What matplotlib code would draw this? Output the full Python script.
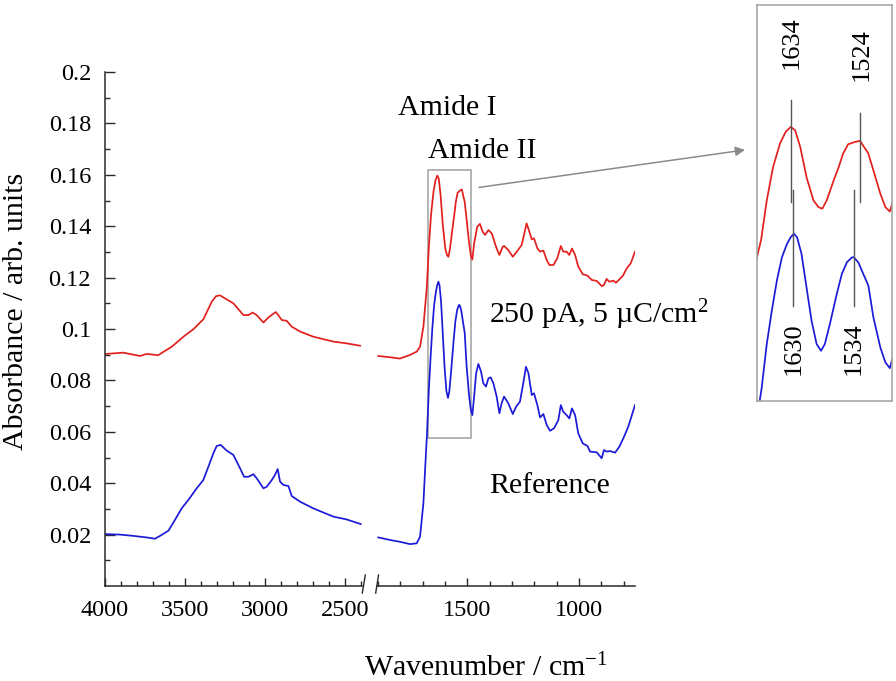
import numpy as np
import matplotlib
matplotlib.use("Agg")
import matplotlib.pyplot as plt
from matplotlib.patches import Rectangle
from matplotlib.ticker import FixedLocator, FuncFormatter

plt.rcParams['font.family'] = ['Liberation Serif', 'DejaVu Serif']
plt.rcParams['mathtext.fontset'] = 'custom'
plt.rcParams['mathtext.rm'] = 'Liberation Serif'
plt.rcParams['mathtext.it'] = 'Liberation Serif'

# ---------------- data ----------------
# high-wavenumber window (4000-2400 cm-1)
red_wn_hi = [3994, 3886, 3781, 3740, 3667, 3635, 3583, 3510, 3448, 3385, 3333, 3306, 3281,
             3250, 3198, 3135, 3104, 3077, 3052, 3010, 2979, 2933, 2917, 2896, 2865, 2833,
             2781, 2698, 2573, 2490, 2406]
red_hi = [0.0903, 0.0908, 0.0895, 0.0903, 0.0898, 0.0911, 0.0931, 0.0970, 0.0999, 0.1038,
          0.1106, 0.1128, 0.1131, 0.1119, 0.1100, 0.1054, 0.1054, 0.1064, 0.1054, 0.1025,
          0.1045, 0.1066, 0.1054, 0.1035, 0.1032, 0.1009, 0.0990, 0.0970, 0.0951, 0.0944,
          0.0935]
blue_wn_hi = [3994, 3906, 3823, 3740, 3688, 3656, 3604, 3563, 3521, 3479, 3427, 3386, 3354,
              3323, 3302, 3277, 3240, 3198, 3156, 3131, 3104, 3073, 3052, 3010, 2990, 2958,
              2938, 2921, 2906, 2885, 2854, 2833, 2781, 2698, 2573, 2490, 2402]
blue_hi = [0.0202, 0.0200, 0.0195, 0.0189, 0.0184, 0.0195, 0.0215, 0.0257, 0.0302, 0.0335,
           0.0380, 0.0412, 0.0464, 0.0516, 0.0545, 0.0549, 0.0527, 0.0510, 0.0458, 0.0425,
           0.0425, 0.0435, 0.0419, 0.0380, 0.0386, 0.0412, 0.0432, 0.0455, 0.0406, 0.0393,
           0.0389, 0.0350, 0.0328, 0.0302, 0.0270, 0.0259, 0.0241]

# low-wavenumber window (1900-750 cm-1)
red_wn_lo = [1898, 1845, 1801, 1756, 1726, 1711, 1696, 1681, 1672, 1662, 1651, 1642, 1634,
             1627, 1619, 1609, 1598, 1590, 1584, 1577, 1566, 1558, 1551, 1543, 1532, 1524,
             1518, 1511, 1503, 1492, 1484, 1477, 1469, 1455, 1443, 1431, 1420, 1405, 1390,
             1371, 1356, 1341, 1335, 1316, 1296, 1278, 1256, 1241, 1234, 1222, 1211, 1201,
             1186, 1174, 1159, 1144, 1132, 1114, 1097, 1081, 1070, 1055, 1043, 1031, 1017,
             1003, 983, 962, 943, 920, 898, 888, 876, 864, 846, 834, 819, 804, 786, 768, 749]
red_lo = [0.0895, 0.0890, 0.0885, 0.0899, 0.0912, 0.0931, 0.1009, 0.1160, 0.1313, 0.1442,
          0.1533, 0.1578, 0.1597, 0.1584, 0.1520, 0.1403, 0.1313, 0.1287, 0.1281, 0.1313,
          0.1390, 0.1442, 0.1494, 0.1530, 0.1539, 0.1543, 0.1520, 0.1494, 0.1429, 0.1339,
          0.1287, 0.1270, 0.1333, 0.1398, 0.1409, 0.1379, 0.1366, 0.1385, 0.1372, 0.1320,
          0.1288, 0.1320, 0.1323, 0.1307, 0.1281, 0.1301, 0.1327, 0.1385, 0.1411, 0.1379,
          0.1349, 0.1353, 0.1314, 0.1301, 0.1305, 0.1268, 0.1249, 0.1249, 0.1275, 0.1323,
          0.1301, 0.1301, 0.1288, 0.1313, 0.1288, 0.1243, 0.1213, 0.1208, 0.1191, 0.1187,
          0.1167, 0.1171, 0.1195, 0.1184, 0.1188, 0.1180, 0.1193, 0.1206, 0.1236, 0.1256,
          0.1301]
blue_wn_lo = [1898, 1845, 1801, 1756, 1726, 1711, 1696, 1688, 1680, 1672, 1664, 1656, 1648,
              1640, 1634, 1629, 1624, 1617, 1609, 1601, 1593, 1586, 1580, 1572, 1561, 1553,
              1545, 1537, 1534, 1527, 1519, 1511, 1503, 1492, 1484, 1477, 1469, 1460, 1450,
              1438, 1428, 1416, 1405, 1395, 1383, 1368, 1356, 1346, 1335, 1316, 1296, 1281,
              1264, 1249, 1237, 1226, 1211, 1201, 1186, 1174, 1159, 1144, 1129, 1111, 1092,
              1081, 1070, 1055, 1043, 1031, 1017, 1003, 983, 962, 950, 920, 898, 888, 876,
              861, 838, 819, 801, 779, 749]
blue_lo = [0.0189, 0.0179, 0.0172, 0.0163, 0.0166, 0.0192, 0.0322, 0.0460, 0.0590, 0.0758,
           0.0887, 0.1003, 0.1093, 0.1145, 0.1171, 0.1184, 0.1171, 0.1107, 0.0977, 0.0848,
           0.0758, 0.0732, 0.0758, 0.0835, 0.0952, 0.1029, 0.1074, 0.1093, 0.1093, 0.1074,
           0.1029, 0.0984, 0.0861, 0.0745, 0.0687, 0.0665, 0.0737, 0.0828, 0.0864, 0.0834,
           0.0789, 0.0776, 0.0808, 0.0812, 0.0789, 0.0737, 0.0672, 0.0711, 0.0737, 0.0711,
           0.0669, 0.0698, 0.0717, 0.0789, 0.0853, 0.0828, 0.0743, 0.0750, 0.0704, 0.0656,
           0.0669, 0.0626, 0.0604, 0.0614, 0.0646, 0.0704, 0.0678, 0.0665, 0.0652, 0.0691,
           0.0665, 0.0594, 0.0555, 0.0545, 0.0523, 0.0520, 0.0497, 0.0529, 0.0523, 0.0525,
           0.0519, 0.0542, 0.0575, 0.0620, 0.0704]

red_peaks = [1634, 1524]
blue_peaks = [1630, 1534]
red_peak_labels = ["1634", "1524"]
blue_peak_labels = ["1630", "1534"]

x_major_hi = [4000, 3500, 3000, 2500]
x_major_lo = [1500, 1000]
y_major = [0.02, 0.04, 0.06, 0.08, 0.1, 0.12, 0.14, 0.16, 0.18, 0.2]

RED = '#e3201e'
BLUE = '#1c1ad8'
AX_C = '#2a2a2a'

W, H = 896, 681
fig = plt.figure(figsize=(W / 100, H / 100), dpi=100)


def fx(px):
    return px / W


def fy(py):
    return 1 - py / H


ax1 = fig.add_axes([fx(105), fy(586), fx(361.7) - fx(105), fy(72) - fy(586)])
ax2 = fig.add_axes([fx(376.7), fy(586), fx(635) - fx(376.7), fy(72) - fy(586)], sharey=ax1)

lw = 1.25
ax1.plot(red_wn_hi, red_hi, color=RED, lw=lw)
ax1.plot(blue_wn_hi, blue_hi, color=BLUE, lw=lw)
ax2.plot(red_wn_lo, red_lo, color=RED, lw=lw)
ax2.plot(blue_wn_lo, blue_lo, color=BLUE, lw=lw)

ax1.set_xlim(4000, 2396)
ax2.set_xlim(1905, 749)
ax1.set_ylim(0, 0.2)

for ax in (ax1, ax2):
    ax.patch.set_alpha(0)
    ax.spines['top'].set_visible(False)
    ax.spines['right'].set_visible(False)
    ax.spines['bottom'].set_color(AX_C)
    ax.spines['left'].set_color(AX_C)
    ax.spines['bottom'].set_linewidth(1.1)
    ax.spines['left'].set_linewidth(1.1)
    ax.tick_params(axis='x', which='major', direction='in', length=6, width=1.0,
                   color=AX_C, labelsize=17.5, pad=10, top=False)
    ax.tick_params(axis='x', which='minor', direction='in', length=3.3, width=1.0,
                   color=AX_C, top=False)

ax2.spines['left'].set_visible(False)
ax2.tick_params(axis='y', which='both', left=False, labelleft=False, right=False)

ax1.xaxis.set_major_locator(FixedLocator(x_major_hi))
ax1.xaxis.set_minor_locator(FixedLocator(np.arange(4000, 2399, -100)))
ax2.xaxis.set_major_locator(FixedLocator(x_major_lo))
ax2.xaxis.set_minor_locator(FixedLocator(np.arange(1900, 799, -100)))
ax1.xaxis.set_major_formatter(FuncFormatter(lambda v, _: f"{v:.0f}"))
ax2.xaxis.set_major_formatter(FuncFormatter(lambda v, _: f"{v:.0f}"))

ax1.yaxis.set_major_locator(FixedLocator(y_major))
ax1.yaxis.set_minor_locator(FixedLocator(np.arange(0.01, 0.2, 0.02)))
ax1.yaxis.set_major_formatter(FuncFormatter(lambda v, _: f"{v:g}"))
ax1.tick_params(axis='y', which='major', direction='in', length=7, width=1.0,
                color=AX_C, labelsize=17.5, pad=10, right=False)
ax1.tick_params(axis='y', which='minor', direction='in', length=3.6, width=1.0,
                color=AX_C, right=False)

# axis-break marks
ax1.plot([1 + 0.6 / 256.7, 1 + 3.6 / 256.7], [-7 / 514, 11 / 514], transform=ax1.transAxes,
         color=AX_C, lw=1.0, clip_on=False)
ax2.plot([-1.0 / 258.3, 1.8 / 258.3], [-7 / 514, 11 / 514], transform=ax2.transAxes,
         color=AX_C, lw=1.0, clip_on=False)

# zoom rectangle in main plot
zoom_x = (1675, 1484)
zoom_y = (0.0575, 0.162)
ax2.add_patch(Rectangle((zoom_x[1], zoom_y[0]), zoom_x[0] - zoom_x[1], zoom_y[1] - zoom_y[0],
                        fill=False, edgecolor='#a0a0a0', lw=1.1, zorder=1))

# inset
axi = fig.add_axes([fx(757.3), fy(401), fx(891.7) - fx(757.3), fy(5) - fy(401)])
axi.plot(red_wn_lo, red_lo, color=RED, lw=lw)
axi.plot(blue_wn_lo, blue_lo, color=BLUE, lw=lw)
axi.set_xlim(1687, 1474)
axi.set_ylim(0.0538, 0.2068)
axi.set_xticks([])
axi.set_yticks([])
for s in axi.spines.values():
    s.set_color('#a0a0a0')
    s.set_linewidth(1.1)

red_line_top = [0.1700, 0.1649]
for p, top, lab, ly in zip(red_peaks, red_line_top, red_peak_labels, [0.1921, 0.1875]):
    axi.plot([p, p], [0.1306, top], color='#555555', lw=1.0)
    axi.text(p - 2, ly, lab, rotation=90, ha='center', va='center', fontsize=19)
for p, lab in zip(blue_peaks, blue_peak_labels):
    axi.plot([p, p], [0.0906, 0.1352], color='#555555', lw=1.0)
    axi.text(p, 0.0742, lab, rotation=90, ha='center', va='center', fontsize=19)

# arrow to inset
axi.annotate('', xy=(-0.0915, 0.634), xycoords='axes fraction',
             xytext=(1447, 0.1551), textcoords=ax2.transData,
             arrowprops=dict(arrowstyle='-|>', color='#8a8a8a', lw=1.1,
                             shrinkA=0, shrinkB=0, mutation_scale=14),
             annotation_clip=False)

# annotations
fs = 21.5
fig.text(fx(398.3), fy(115), 'Amide I', fontsize=fs, ha='left', va='baseline')
fig.text(fx(428.3), fy(158.3), 'Amide II', fontsize=fs, ha='left', va='baseline')
fig.text(fx(489.3), fy(323.3), '250 pA, 5 \u00b5C/cm$^{2}$', fontsize=fs, ha='left', va='baseline')
fig.text(fx(489.3), fy(493.3), 'Reference', fontsize=fs, ha='left', va='baseline')

fig.text(fx(486), fy(676.7), 'Wavenumber / cm$^{\\mathrm{-}1}$', fontsize=fs, ha='center',
         va='baseline')
fig.text(fx(16), fy(311), 'Absorbance / arb. units', fontsize=fs, rotation=90,
         ha='center', va='center')

fig.savefig('out.png', dpi=100)
